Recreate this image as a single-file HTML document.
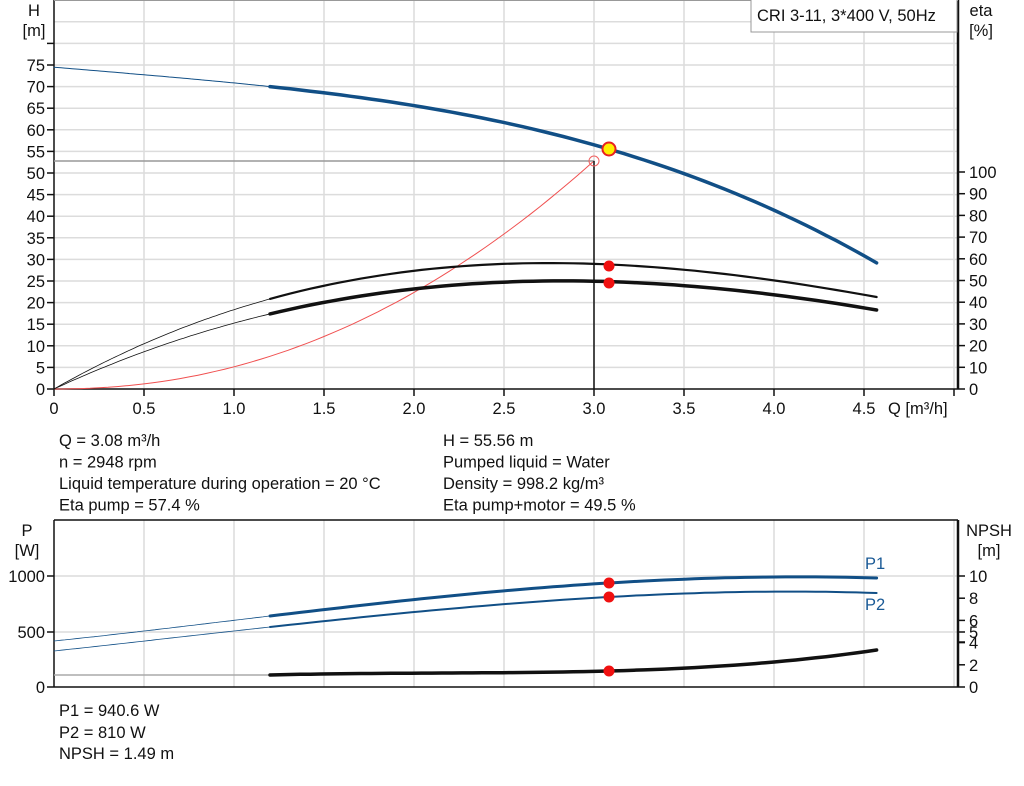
<!DOCTYPE html><html><head><meta charset="utf-8"><style>
body{margin:0;background:#fff;width:1024px;height:781px;overflow:hidden;font-family:"Liberation Sans",Arial,sans-serif}
svg text{font-family:"Liberation Sans",Arial,sans-serif;font-size:16.5px;fill:#111}
</style></head><body>
<svg id="s" width="1024" height="781" xmlns="http://www.w3.org/2000/svg"></svg>
<script>
const s=document.getElementById('s');let h='';
const X=q=>54+180*q;
function lag(P,q){let r=0;for(let i=0;i<P.length;i++){let t=P[i][1];for(let j=0;j<P.length;j++)if(j!=i)t*=(q-P[j][0])/(P[i][0]-P[j][0]);r+=t;}return r;}
function path(f,a,b,col,w){let d='';for(let i=0;i<=60;i++){const q=a+(b-a)*i/60;d+=(i?'L':'M')+X(q).toFixed(1)+' '+f(q).toFixed(1);}h+=`<path d="${d}" fill="none" stroke="${col}" stroke-width="${w}" stroke-linecap="round"/>`;}
const line=(x1,y1,x2,y2,c,w)=>h+=`<line x1="${x1}" y1="${y1}" x2="${x2}" y2="${y2}" stroke="${c}" stroke-width="${w}"/>`;
const txt=(x,y,t,a,c)=>h+=`<text x="${x}" y="${y}" text-anchor="${a||'start'}"${c?` style="fill:${c}"`:''}>${t}</text>`;
for(let i=1;i<=10;i++)line(X(i*0.5),0,X(i*0.5),389,'#dcdcdc',1.5);
for(let v=5;v<=85;v+=5){const y=389-v*4.32;if(y>0)line(54,y,958,y,'#dcdcdc',1.5);}
line(54,0,54,389,'#111',1.5);line(958,0,958,389,'#111',2.5);line(54,389,958,389,'#111',1.5);line(54,0.5,958,0.5,'#999',1);
for(let v=0;v<=80;v+=5){const y=389-v*4.32;line(47,y,54,y,'#111',1.5);if(v<80)txt(45,y+6,v,'end');}
for(let i=0;i<=10;i++){line(X(i*0.5),389,X(i*0.5),396,'#111',1.5);if(i<10)txt(X(i*0.5),414,i==0?'0':(i*0.5).toFixed(1),'middle');}
txt(888,414,'Q [m³/h]');
for(let v=0;v<=100;v+=10){const y=389-v*2.17;line(958,y,965,y,'#111',1.5);txt(969,y+6,v);}
txt(34,16,'H','middle');txt(34,36,'[m]','middle');txt(981,16,'eta','middle');txt(981,36,'[%]','middle');
h+=`<rect x="751" y="-1" width="206" height="33" fill="#fff" stroke="#999"/>`;txt(757,21,'CRI 3-11, 3*400 V, 50Hz');
const Yh=v=>389-v*4.32,Ye=v=>389-v*2.17;
path(q=>Yh(52.8*Math.pow(q/3,2.12)),0,3,'#f05050',1);
line(54,161,594,161,'#999',1.5);line(594,161,594,389,'#111',1.5);
const H=[[0,74.5],[1.2,70],[3.08,55.56],[4.57,29.2]];
path(q=>Yh(lag(H,q)),0,1.2,'#114f86',1);path(q=>Yh(lag(H,q)),1.2,4.57,'#114f86',3.5);
const E1=[[0,0],[1.2,41.5],[3.08,57.4],[4.57,42.4]],E2=[[0,0],[1.2,34.6],[3.08,49.5],[4.57,36.4]];
path(q=>Ye(lag(E1,q)),0,1.2,'#111',0.8);path(q=>Ye(lag(E1,q)),1.2,4.57,'#111',2.2);
path(q=>Ye(lag(E2,q)),0,1.2,'#111',0.8);path(q=>Ye(lag(E2,q)),1.2,4.57,'#111',3.5);
h+=`<circle cx="594" cy="161" r="5" fill="none" stroke="#f06060" stroke-width="1"/>`;
h+=`<circle cx="609" cy="149" r="6.5" fill="#ffee00" stroke="#e82020" stroke-width="2"/>`;
h+=`<circle cx="609" cy="266" r="5.5" fill="#f01010"/><circle cx="609" cy="283" r="5.5" fill="#f01010"/>`;
[['Q = 3.08 m³/h','H = 55.56 m'],['n = 2948 rpm','Pumped liquid = Water'],['Liquid temperature during operation = 20 °C','Density = 998.2 kg/m³'],['Eta pump = 57.4 %','Eta pump+motor = 49.5 %']].forEach((r,i)=>{txt(59,446+i*21.5,r[0]);txt(443,446+i*21.5,r[1]);});
for(let i=1;i<=10;i++)line(X(i*0.5),520,X(i*0.5),687,'#dcdcdc',1.5);
line(54,576,958,576,'#dcdcdc',1.5);line(54,632,958,632,'#dcdcdc',1.5);
line(54,520,958,520,'#111',1.5);line(54,520,54,687,'#111',1.5);line(958,520,958,687,'#111',2.5);line(54,687,958,687,'#111',1.5);
[[0,687],[500,632],[1000,576]].forEach(a=>{line(47,a[1],54,a[1],'#111',1.5);txt(45,a[1]+6,a[0],'end');});
for(let i=0;i<=10;i+=2){const y=687-i*11.1;line(958,y,965,y,'#111',1.5);txt(969,y+6,i);}
line(958,632,965,632,'#111',1.5);line(958,642,965,642,'#111',1.5);txt(969,638,'5');
txt(27,536,'P','middle');txt(27,556,'[W]','middle');txt(989,536,'NPSH','middle');txt(989,556,'[m]','middle');
const P1=[[0,641],[1.2,616],[3.08,583],[4.57,578],[4.0,577]],P2=[[0,651],[1.2,627],[3.08,597],[4.57,593]],N=[[1.2,675],[3.08,671],[4.0,662],[4.57,650]];
path(q=>lag(P1,q),0,1.2,'#114f86',0.8);path(q=>lag(P1,q),1.2,4.57,'#114f86',3);
path(q=>lag(P2,q),0,1.2,'#114f86',0.8);path(q=>lag(P2,q),1.2,4.57,'#114f86',2);
line(54,675,270,675,'#aaa',1.5);path(q=>lag(N,q),1.2,4.57,'#111',3.5);
h+=`<circle cx="609" cy="583" r="5.5" fill="#f01010"/><circle cx="609" cy="597" r="5.5" fill="#f01010"/><circle cx="609" cy="671" r="5.5" fill="#f01010"/>`;
txt(865,569,'P1','start','#1a5a96');txt(865,610,'P2','start','#1a5a96');
txt(59,716,'P1 = 940.6 W');txt(59,738,'P2 = 810 W');txt(59,759,'NPSH = 1.49 m');
s.innerHTML=h;
</script></body></html>
